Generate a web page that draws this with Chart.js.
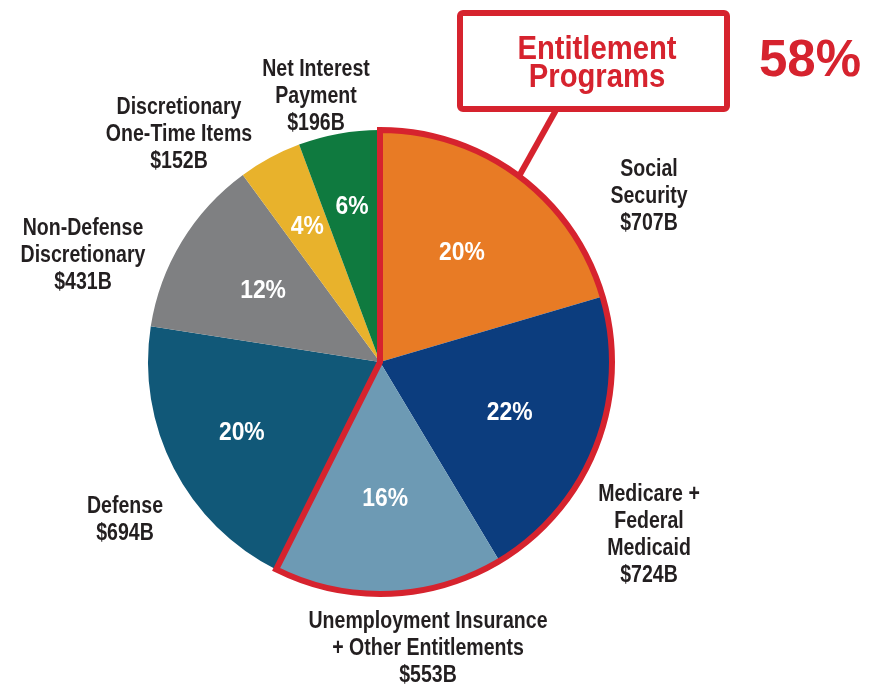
<!DOCTYPE html>
<html>
<head>
<meta charset="utf-8">
<script src="https://cdn.jsdelivr.net/npm/chart.js@4.4.0/dist/chart.umd.min.js"></script>
<style>
    html, body { margin: 0; padding: 0; background: #fff; }
    #wrap { width: 877px; height: 686px; position: relative; }
</style>
</head>
<body>
<div id="wrap"><canvas id="budget" width="877" height="686"></canvas></div>
<script>
// spending categories, clockwise from 12 o'clock
const categories = [
    ["Social", "Security"],
    ["Medicare +", "Federal", "Medicaid"],
    ["Unemployment Insurance", "+ Other Entitlements"],
    ["Defense"],
    ["Non-Defense", "Discretionary"],
    ["Discretionary", "One-Time Items"],
    ["Net Interest", "Payment"]
];
const amounts = [707, 724, 553, 694, 431, 152, 196];   // $ billions
const shares = ["20%", "22%", "16%", "20%", "12%", "4%", "6%"];
const colors = ["#E87B25", "#0C3D7E", "#6D9AB4", "#115878", "#7F8082", "#E8B22C", "#0F7A3F"];
const entitlementCount = 3;
const entitlementShare = "58%";

// where the outer captions sit (centre x, first line centre y)
const captionPos = [[649, 170], [649, 495], [428, 622], [125, 507], [83, 229], [179, 108], [316, 70]];
// how far out along each slice the white share sits (fraction of radius)
const shareRadius = [0.59, 0.6, 0.59, 0.67, 0.59, 0.66, 0.68];

const RED = "#D6232E";
const SANS = '"Liberation Sans", Arial, sans-serif';

// condensed look: squeeze regular bold text horizontally
function narrowText(ctx, text, x, y, squeeze) {
    ctx.save();
    ctx.translate(x, y);
    ctx.scale(squeeze, 1);
    ctx.fillText(text, 0, 0);
    ctx.restore();
}

const decorations = {
    id: 'decorations',
    afterDatasetsDraw(chart) {
        const ctx = chart.ctx;
        const arcs = chart.getDatasetMeta(0).data;
        const first = arcs[0];
        const last = arcs[entitlementCount - 1];
        const cx = first.x, cy = first.y, r = first.outerRadius;

        ctx.save();
        // white share labels inside the slices
        ctx.fillStyle = "#fff";
        ctx.font = 'bold 26px ' + SANS;
        ctx.textAlign = "center";
        ctx.textBaseline = "middle";
        arcs.forEach((a, i) => {
            const mid = (a.startAngle + a.endAngle) / 2;
            const rr = a.outerRadius * shareRadius[i];
            narrowText(ctx, shares[i], cx + Math.cos(mid) * rr, cy + Math.sin(mid) * rr, 0.88);
        });

        // red outline round the entitlement slices
        ctx.beginPath();
        ctx.moveTo(cx, cy);
        ctx.arc(cx, cy, r, first.startAngle, last.endAngle);
        ctx.closePath();
        ctx.strokeStyle = RED;
        ctx.lineWidth = 6;
        ctx.lineJoin = "miter";
        ctx.stroke();

        // callout box and its pointer to the Social Security slice
        const mid0 = (first.startAngle + first.endAngle) / 2;
        ctx.beginPath();
        ctx.moveTo(556, 110);
        ctx.lineTo(cx + Math.cos(mid0) * r, cy + Math.sin(mid0) * r);
        ctx.lineWidth = 6;
        ctx.stroke();

        ctx.beginPath();
        ctx.roundRect(460, 13, 267, 96, 3);
        ctx.fillStyle = "#fff";
        ctx.fill();
        ctx.stroke();

        ctx.fillStyle = RED;
        ctx.textBaseline = "alphabetic";
        ctx.font = 'bold 34px ' + SANS;
        narrowText(ctx, "Entitlement", 597, 59, 0.86);
        narrowText(ctx, "Programs", 597, 87, 0.86);

        ctx.font = 'bold 51px ' + SANS;
        ctx.fillText(entitlementShare, 810, 76);

        // category captions outside the pie
        ctx.fillStyle = "#231F20";
        ctx.textBaseline = "middle";
        ctx.font = 'bold 23px ' + SANS;
        categories.forEach((lines, i) => {
            const [x, y] = captionPos[i];
            const all = lines.concat(["$" + amounts[i] + "B"]);
            all.forEach((t, k) => narrowText(ctx, t, x, y + k * 27, 0.85));
        });
        ctx.restore();
    }
};

new Chart(document.getElementById('budget'), {
    type: 'pie',
    data: {
        labels: categories.map(c => c.join(" ")),
        datasets: [{
            data: amounts,
            backgroundColor: colors,
            borderWidth: 0
        }]
    },
    options: {
        responsive: false,
        animation: false,
        layout: { padding: { left: 148, right: 265, top: 130, bottom: 92 } },
        plugins: {
            legend: { display: false },
            tooltip: { enabled: false }
        }
    },
    plugins: [decorations]
});
</script>
</body>
</html>
